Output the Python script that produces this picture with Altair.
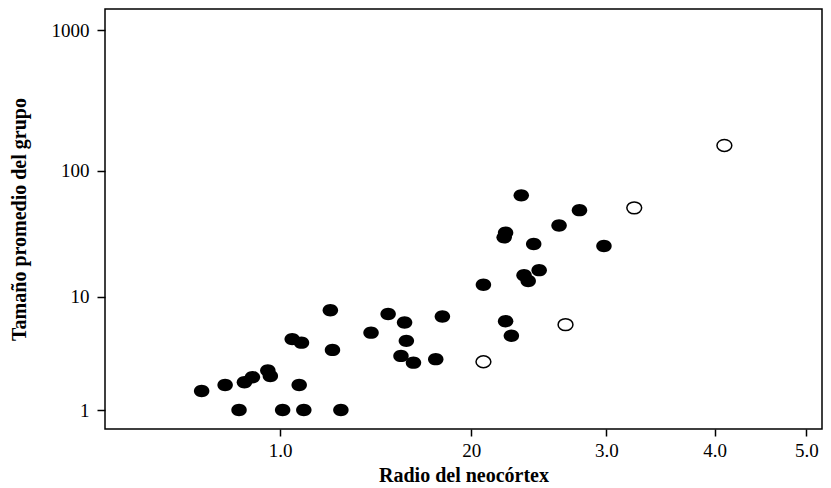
import altair as alt
import pandas as pd

# Filled points (neocortex ratio, mean group size)
x_filled = [0.71, 0.79, 0.84, 0.86, 0.89, 0.95, 0.96, 1.01, 1.08, 1.10,
            1.05, 1.09, 1.22, 1.23, 1.27, 1.42, 1.51, 1.60, 1.61, 1.58,
            1.65, 1.78, 1.82, 2.08, 2.23, 2.27, 2.22, 2.23, 2.34, 2.43,
            2.36, 2.39, 2.47, 2.62, 2.78, 2.98]
y_filled = [1.5, 1.7, 1.0, 1.8, 2.0, 2.3, 2.05, 1.0, 1.7, 1.0,
            4.35, 4.05, 7.7, 3.5, 1.0, 4.95, 7.15, 6.05, 4.2, 3.1,
            2.7, 2.9, 6.8, 12.6, 6.2, 4.65, 30.5, 33.2, 64.9, 27.0,
            15.1, 13.5, 16.6, 37.9, 49.9, 26.0]
# Open points
x_open = [2.08, 2.67, 3.24, 4.10]
y_open = [2.75, 5.8, 52.0, 154.0]

x_ticks = [1, 2, 3, 4, 5]
x_tick_labels = ["1.0", "20", "3.0", "4.0", "5.0"]
y_ticks = [1, 10, 100, 1000]

df_f = pd.DataFrame({"x": x_filled, "y": y_filled})
df_o = pd.DataFrame({"x": x_open, "y": y_open})

FONT = "Liberation Serif"
ELLIPSE = "M -1 0 A 1 0.8 0 1 1 1 0 A 1 0.8 0 1 1 -1 0 Z"

label_expr = " : ".join(
    [f"datum.value == {v} ? '{l}'" for v, l in zip(x_ticks, x_tick_labels)]
) + " : ''"

xs = alt.Scale(type="pow", exponent=0.35, domain=[0.4364, 5.185], nice=False, zero=False)
ys = alt.Scale(type="pow", exponent=0.04649, domain=[0.663, 1390], nice=False, zero=False)

xax = alt.Axis(values=x_ticks, labelExpr=label_expr, title="Radio del neocórtex",
               domain=False, grid=False, ticks=True, tickColor="black", tickWidth=1.5,
               tickSize=7, labelFont=FONT, labelFontSize=19, labelColor="black",
               labelPadding=5, titleFont=FONT, titleFontSize=20, titleFontWeight="bold",
               titleColor="black", titlePadding=5)
yax = alt.Axis(values=y_ticks, format="d", title="Tamaño promedio del grupo",
               domain=False, grid=False, ticks=True, tickColor="black", tickWidth=1.5,
               tickSize=8, labelFont=FONT, labelFontSize=19, labelColor="black",
               labelPadding=8, titleFont=FONT, titleFontSize=20, titleFontWeight="bold",
               titleColor="black", titlePadding=22)

filled = alt.Chart(df_f).mark_point(shape=ELLIPSE, filled=True, size=240, color="black",
                                    opacity=1).encode(
    x=alt.X("x:Q", scale=xs, axis=xax),
    y=alt.Y("y:Q", scale=ys, axis=yax),
)
opened = alt.Chart(df_o).mark_point(shape=ELLIPSE, filled=False, size=220, stroke="black",
                                    fill="white", fillOpacity=1, strokeWidth=1.5,
                                    opacity=1).encode(
    x=alt.X("x:Q", scale=xs),
    y=alt.Y("y:Q", scale=ys),
)

chart = (filled + opened).properties(
    width=717, height=420,
    autosize=alt.AutoSizeParams(type="none"),
    padding={"left": 97, "top": 1, "right": 1, "bottom": 56},
    background="white",
).configure_view(stroke="black", strokeWidth=1.5)

chart.save("out.html", embed_options={"renderer": "svg", "actions": False})
